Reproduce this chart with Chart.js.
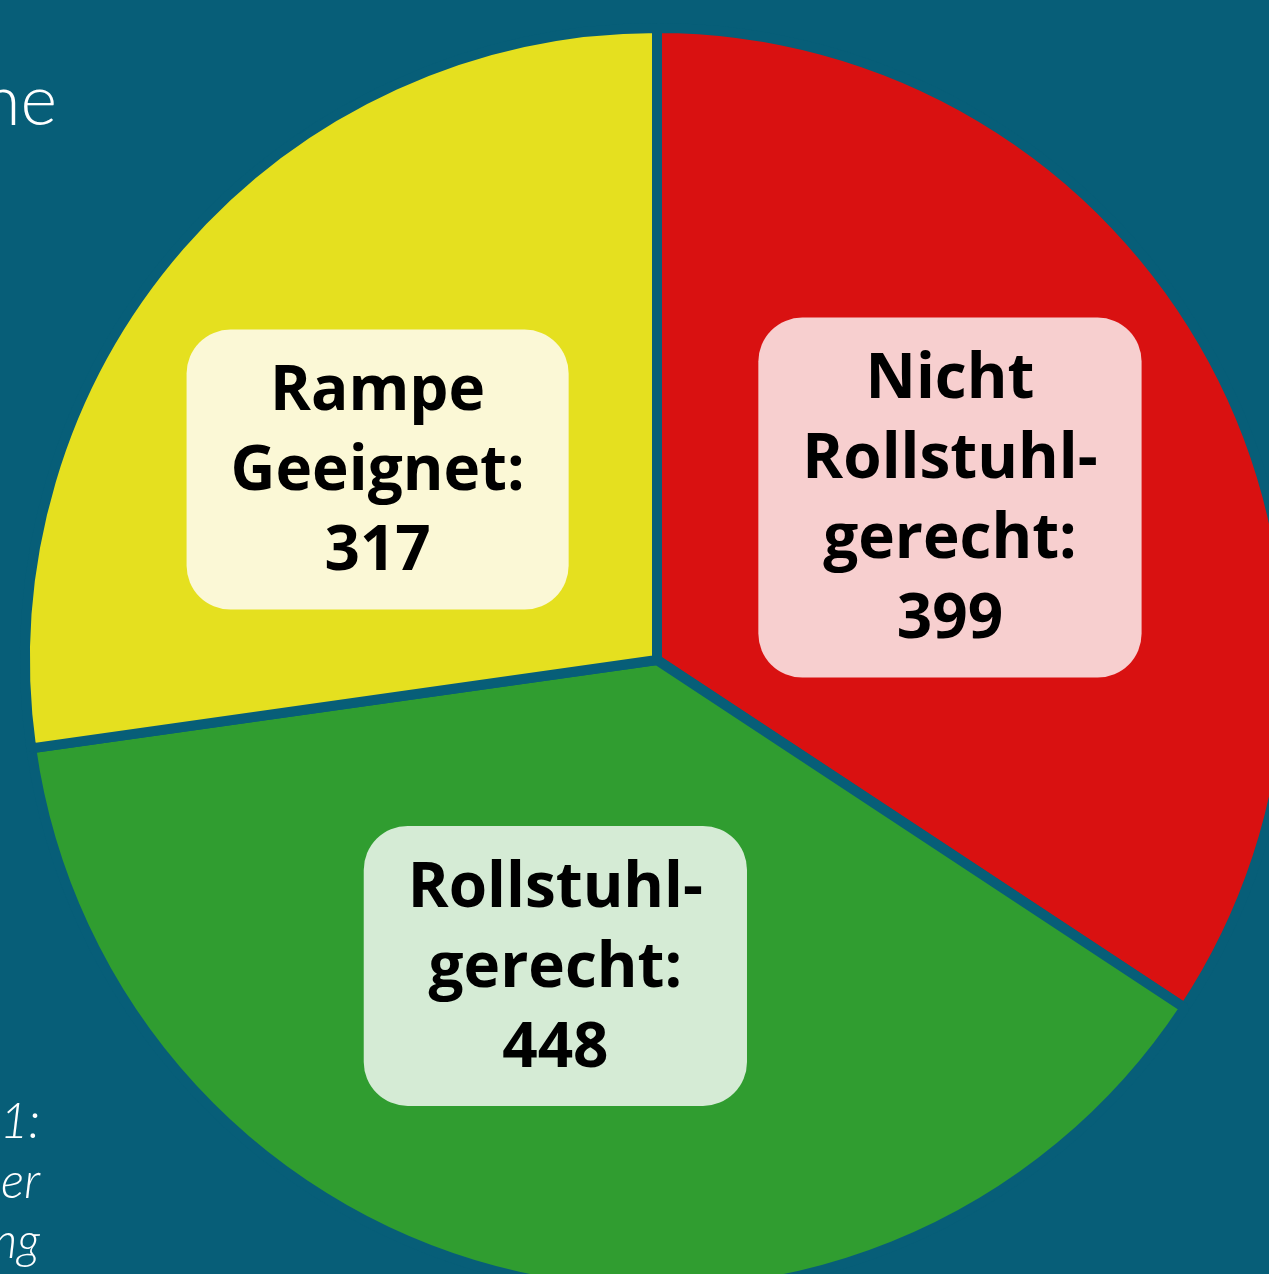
<!DOCTYPE html>
<html>
<head>
<meta charset="utf-8">
<script src="https://cdn.jsdelivr.net/npm/chart.js@4.4.1/dist/chart.umd.min.js"></script>
<style>
  html, body { margin: 0; padding: 0; background: #075e78; overflow: hidden; }
  #wrap { position: relative; width: 1269px; height: 1274px; overflow: hidden; background: #075e78; }
  #pie { position: absolute; left: 0; top: 0; }
  .side { position: absolute; color: #fff; font-family: Lato, "Open Sans", sans-serif; font-weight: 300; white-space: nowrap; text-align: right; }
</style>
</head>
<body>
<div id="wrap">
  <canvas id="pie" width="1314" height="1320"></canvas>
  <div class="side" style="right:1212px; top:56px; font-size:70px;">ne</div>
  <div class="side" style="right:1229px; top:1090px; font-size:49px; font-style:italic;">1:</div>
  <div class="side" style="right:1229px; top:1150px; font-size:49px; font-style:italic;">er</div>
  <div class="side" style="right:1229px; top:1210px; font-size:49px; font-style:italic;">ng</div>
</div>
<script>
const categories = ["Nicht Rollstuhlgerecht", "Rollstuhlgerecht", "Rampe Geeignet"];
const labelLines = [
  ["Nicht", "Rollstuhl-", "gerecht:"],
  ["Rollstuhl-", "gerecht:"],
  ["Rampe", "Geeignet:"]
];
const counts = [399, 448, 317];

const sliceColors = ["#d91111", "#309d30", "#e5e01f"];
const boxColors = ["#f7cfcf", "#d5ebd5", "#fbf8d6"];
const bg = "#075e78";

// rounded boxes with the count, placed along each slice
const boxLabels = {
  id: "boxLabels",
  afterDatasetsDraw(chart, args, opts) {
    const ctx = chart.ctx;
    const arcs = chart.getDatasetMeta(0).data;
    ctx.save();
    ctx.font = "bold " + opts.fontSize + "px 'Open Sans', Lato, sans-serif";
    ctx.textAlign = "center";
    ctx.textBaseline = "middle";
    arcs.forEach((arc, i) => {
      const p = arc.getProps(["x", "y", "startAngle", "endAngle", "outerRadius"], true);
      const mid = (p.startAngle + p.endAngle) / 2 + opts.angleShift[i] * Math.PI / 180;
      const r = p.outerRadius * opts.radial[i];
      const cx = p.x + Math.cos(mid) * r;
      const cy = p.y + Math.sin(mid) * r;
      const lines = labelLines[i].concat([String(counts[i])]);
      const w = Math.max(...lines.map(l => ctx.measureText(l).width)) + opts.padX * 2;
      const h = lines.length * opts.lineHeight + opts.padY * 2;
      ctx.fillStyle = boxColors[i];
      ctx.beginPath();
      ctx.roundRect(cx - w / 2, cy - h / 2, w, h, opts.corner);
      ctx.fill();
      ctx.fillStyle = "#000";
      lines.forEach((l, j) => {
        ctx.fillText(l, cx, cy - h / 2 + opts.padY + opts.lineHeight * (j + 0.5) + 3);
      });
    });
    ctx.restore();
  }
};

new Chart(document.getElementById("pie"), {
  type: "pie",
  data: {
    labels: categories,
    datasets: [{
      data: counts,
      backgroundColor: sliceColors,
      borderColor: bg,
      borderWidth: 10,
      radius: 632
    }]
  },
  options: {
    responsive: false,
    animation: false,
    events: [],
    plugins: {
      legend: { display: false },
      tooltip: { enabled: false },
      boxLabels: {
        fontSize: 62,
        lineHeight: 80,
        padX: 44,
        padY: 20,
        corner: 44,
        angleShift: [-0.7, 5.7, -6.7],
        radial: [0.53, 0.51, 0.535]
      }
    }
  },
  plugins: [boxLabels]
});
</script>
</body>
</html>
